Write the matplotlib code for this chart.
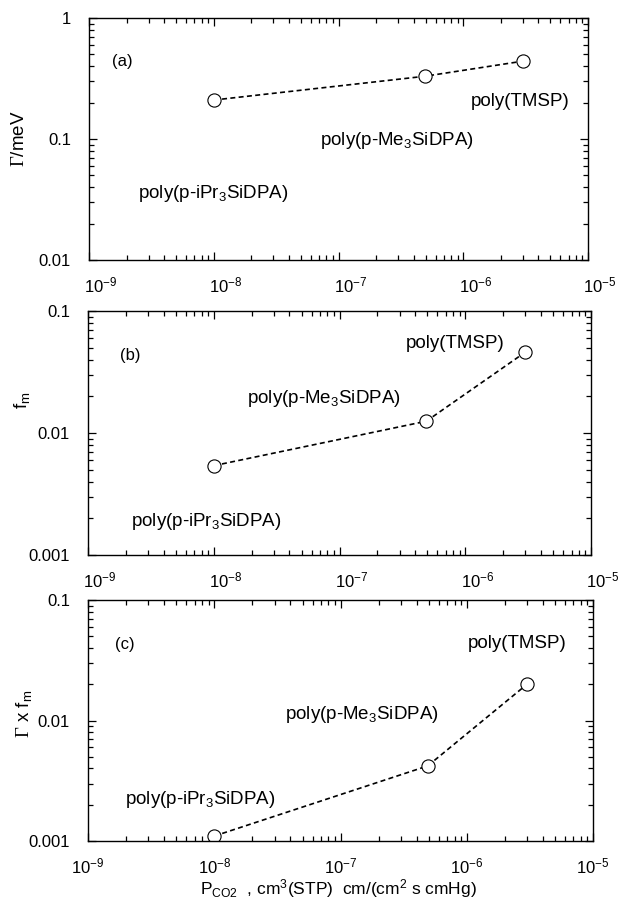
import math
import matplotlib
matplotlib.use("Agg")
import matplotlib.pyplot as plt
from matplotlib.ticker import FuncFormatter
from matplotlib.transforms import ScaledTranslation

plt.rcParams['font.family'] = ['Liberation Sans', 'DejaVu Sans']
plt.rcParams['mathtext.fontset'] = 'custom'
plt.rcParams['mathtext.rm'] = 'Liberation Sans'
plt.rcParams['mathtext.it'] = 'Liberation Sans:italic'
plt.rcParams['mathtext.bf'] = 'Liberation Sans:bold'
plt.rcParams['mathtext.cal'] = 'Liberation Serif'

# permeability of CO2 for the three polymers
p_co2 = [1.0e-8, 4.9e-7, 3.0e-6]
polymers = ['poly(p-iPr$_3$SiDPA)', 'poly(p-Me$_3$SiDPA)', 'poly(TMSP)']

gamma = [0.21, 0.33, 0.44]          # Gamma / meV
f_m = [0.0054, 0.0125, 0.046]       # f_m
gamma_fm = [0.0011, 0.0042, 0.020]  # Gamma x f_m

x_ticks = [1e-9, 1e-8, 1e-7, 1e-6, 1e-5]
panels = ['(a)', '(b)', '(c)']
ylabels = [r'$\mathcal{\Gamma}$/meV', 'f$_\mathrm{m}$', r'$\mathcal{\Gamma}$ x f$_\mathrm{m}$']
ylims = [(0.01, 1), (0.001, 0.1), (0.001, 0.1)]

fig = plt.figure(figsize=(6.23, 9.06), dpi=100)

# axes boxes [left, bottom, width, height]
boxes = [[0.1429, 0.7130, 0.8010, 0.2671],
         [0.1413, 0.3874, 0.8074, 0.2693],
         [0.1413, 0.0717, 0.8106, 0.2660]]

# label positions in axes fraction: panel tag, then iPr3, Me3, TMSP
tag_pos = [(0.046, 0.80), (0.064, 0.80), (0.053, 0.797)]
label_pos = [
    [(0.098, 0.256), (0.463, 0.475), (0.766, 0.636)],
    [(0.085, 0.119), (0.316, 0.623), (0.632, 0.848)],
    [(0.073, 0.154), (0.390, 0.506), (0.752, 0.801)],
]
ylabel_xy = [(-0.122, 0.5), (-0.111, 0.635), (-0.107, 0.527)]
# x tick labels of (a) and (b) sit a bit right of their ticks in the original
xlabel_shift = [0.12, 0.12, 0.0]

series = [gamma, f_m, gamma_fm]

for i in range(3):
    ax = fig.add_axes(boxes[i])
    ax.plot(p_co2, series[i], linestyle=(0, (3, 2)), color='black', lw=1.2,
            marker='o', markersize=9.5, markerfacecolor='white',
            markeredgecolor='black', markeredgewidth=0.8)
    ax.set_xscale('log')
    ax.set_yscale('log')
    ax.set_xlim(1e-9, 1e-5)
    ax.set_ylim(*ylims[i])
    ax.set_xticks(x_ticks)
    ax.xaxis.set_major_formatter(FuncFormatter(lambda v, p: r'$10^{%d}$' % round(math.log10(v))))
    ax.yaxis.set_major_formatter(FuncFormatter(lambda v, p: '%g' % v))
    ax.tick_params(which='both', direction='in', top=True, right=True, width=0.9)
    ax.tick_params(which='major', length=6, labelsize=12)
    ax.tick_params(axis='x', which='major', pad=11)
    ax.tick_params(axis='y', which='major', pad=13)
    ax.tick_params(which='minor', length=3.5)
    for s in ax.spines.values():
        s.set_linewidth(1.0)

    if xlabel_shift[i]:
        for lab in ax.get_xticklabels():
            lab.set_transform(lab.get_transform() +
                              ScaledTranslation(xlabel_shift[i], 0, fig.dpi_scale_trans))

    ax.text(*tag_pos[i], panels[i], transform=ax.transAxes, fontsize=12,
            ha='left', va='baseline')
    for j in range(3):
        ax.text(*label_pos[i][j], polymers[j], transform=ax.transAxes,
                fontsize=13.5, ha='left', va='baseline')

    ax.set_ylabel(ylabels[i], fontsize=13.5)
    ax.yaxis.set_label_coords(*ylabel_xy[i])

    if i == 2:
        ax.set_xlabel('P$_\\mathrm{CO2}$  , cm$^3$(STP)  cm/(cm$^2$ s cmHg)', fontsize=12.5)
        ax.xaxis.set_label_coords(0.495, -0.15)

fig.savefig('out.png', dpi=100)
